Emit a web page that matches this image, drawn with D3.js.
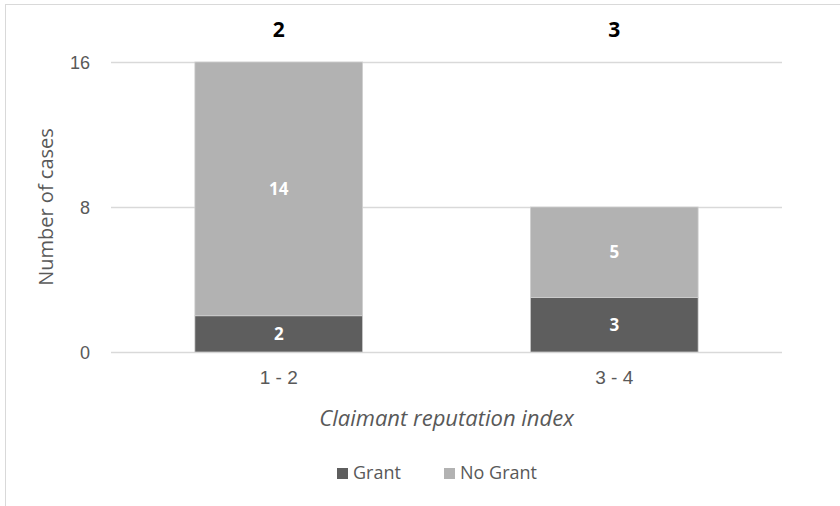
<!DOCTYPE html>
<html>
<head>
<meta charset="utf-8">
<script src="https://cdn.jsdelivr.net/npm/d3@7"></script>
<style>
  html, body { margin: 0; padding: 0; background: #fff; }
  svg { display: block; font-family: "Open Sans", "Lato", sans-serif; }
</style>
</head>
<body>
<svg id="chart" width="840" height="506"></svg>
<script>
// Cases by claimant reputation index, split into granted / not granted
const categories = ["1 - 2", "3 - 4"];
const seriesNames = ["Grant", "No Grant"];
const grantValues = [2, 3];
const noGrantValues = [14, 5];
const yTicks = [0, 8, 16];

const colors = { "Grant": "#5e5e5e", "No Grant": "#b2b2b2" };

const svg = d3.select("#chart");
const W = 840, H = 506;
const margin = { top: 62, right: 58, bottom: 154, left: 111 };
const innerW = W - margin.left - margin.right;
const innerH = H - margin.top - margin.bottom;

// outer frame (only top and left edges fall inside the view)
svg.append("rect")
  .attr("x", 5.5).attr("y", 4.5)
  .attr("width", W + 10).attr("height", H + 10)
  .attr("fill", "none").attr("stroke", "#d9d9d9").attr("stroke-width", 1);

const g = svg.append("g").attr("transform", `translate(${margin.left},${margin.top})`);

const x = d3.scaleBand().domain(categories).range([0, innerW]).paddingInner(0.5).paddingOuter(0.25);
const y = d3.scaleLinear().domain([0, 16]).range([innerH, 0]);

// gridlines
g.append("g")
  .selectAll("line")
  .data(yTicks)
  .join("line")
  .attr("x1", 0).attr("x2", innerW)
  .attr("y1", d => y(d) + 0.5).attr("y2", d => y(d) + 0.5)
  .attr("stroke", "#d9d9d9").attr("stroke-width", 1.5);

// y axis labels
const yAxis = g.append("g")
  .call(d3.axisLeft(y).tickValues(yTicks).tickSize(0).tickPadding(21));
yAxis.select(".domain").remove();
yAxis.selectAll("text")
  .attr("fill", "#595959").style("font-size", "18px")
  .attr("dy", "0.35em");

// x axis labels
const xAxis = g.append("g")
  .attr("transform", `translate(0,${innerH})`)
  .call(d3.axisBottom(x).tickSize(0).tickPadding(19));
xAxis.select(".domain").remove();
xAxis.selectAll("text")
  .attr("fill", "#595959").style("font-size", "19px");

// stacked data
const rows = categories.map((c, i) => ({ category: c, "Grant": grantValues[i], "No Grant": noGrantValues[i] }));
const stack = d3.stack().keys(seriesNames)(rows);

const layers = g.append("g")
  .selectAll("g")
  .data(stack)
  .join("g")
  .attr("fill", d => colors[d.key]);

layers.selectAll("rect")
  .data(d => d)
  .join("rect")
  .attr("x", d => x(d.data.category))
  .attr("width", x.bandwidth())
  .attr("y", d => y(d[1]))
  .attr("height", d => y(d[0]) - y(d[1]))
  .attr("stroke", "#d0d0d0").attr("stroke-width", 0.75);

// value labels centred in each segment
layers.selectAll("text")
  .data(d => d.map(v => ({ v, key: d.key })))
  .join("text")
  .attr("x", d => x(d.v.data.category) + x.bandwidth() / 2)
  .attr("y", d => (y(d.v[1]) + y(d.v[0])) / 2)
  .attr("dy", "0.35em")
  .attr("text-anchor", "middle")
  .attr("fill", "#fff")
  .style("font-size", "17px").style("font-weight", "bold")
  .text(d => d.v.data[d.key]);

// grant counts above each column
g.append("g")
  .selectAll("text")
  .data(rows)
  .join("text")
  .attr("x", d => x(d.category) + x.bandwidth() / 2)
  .attr("y", -32)
  .attr("dy", "0.35em")
  .attr("text-anchor", "middle")
  .attr("fill", "#000")
  .style("font-size", "21px").style("font-weight", "bold")
  .text(d => d["Grant"]);

// axis titles
svg.append("text")
  .attr("transform", `translate(46,${margin.top + innerH / 2}) rotate(-90)`)
  .attr("text-anchor", "middle").attr("dy", "0.35em")
  .attr("fill", "#595959").style("font-size", "20px")
  .text("Number of cases");

svg.append("text")
  .attr("x", margin.left + innerW / 2).attr("y", 418)
  .attr("text-anchor", "middle").attr("dy", "0.35em")
  .attr("fill", "#595959").style("font-size", "22px").style("font-style", "italic")
  .text("Claimant reputation index");

// legend
const legendItems = [{ key: "Grant", x: 337 }, { key: "No Grant", x: 444 }];
const legend = svg.append("g").selectAll("g").data(legendItems).join("g")
  .attr("transform", d => `translate(${d.x},473)`);
legend.append("rect")
  .attr("x", 0).attr("y", -5).attr("width", 11).attr("height", 11)
  .attr("fill", d => colors[d.key]);
legend.append("text")
  .attr("x", 16).attr("dy", "0.35em")
  .attr("fill", "#595959").style("font-size", "18px")
  .text(d => d.key);
</script>
</body>
</html>
